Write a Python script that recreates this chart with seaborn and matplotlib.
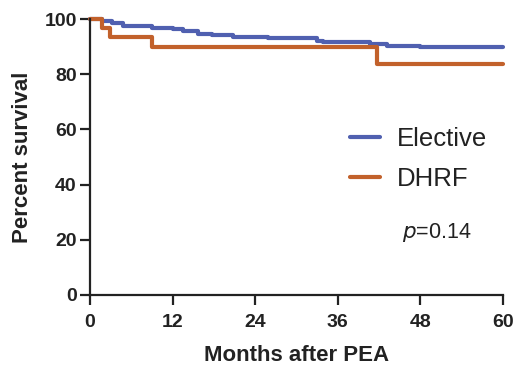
import matplotlib
matplotlib.use('Agg')
import matplotlib.pyplot as plt
import seaborn as sns
import pandas as pd

# Kaplan-Meier step curves (months, percent survival)
elective_months = [0, 1.7, 3.2, 4.8, 9.0, 12.1, 13.5, 15.7, 17.7, 20.8, 25.9, 33.0, 33.9, 40.7, 43.2, 48.0, 60]
elective_surv = [100, 99.4, 98.7, 97.6, 96.9, 96.4, 95.7, 94.7, 94.2, 93.5, 93.0, 92.0, 91.5, 90.8, 90.3, 89.7, 89.7]
dhrf_months = [0, 1.7, 2.9, 9.0, 41.7, 60]
dhrf_surv = [100, 96.9, 93.5, 90.0, 83.6, 83.6]

groups = ['Elective', 'DHRF']
colors = ['#5060b0', '#c2612b']
x_ticks = [0, 12, 24, 36, 48, 60]
y_ticks = [0, 20, 40, 60, 80, 100]

sns.set_style('ticks')
plt.rcParams['font.family'] = ['Liberation Sans', 'DejaVu Sans']

data = pd.concat([
    pd.DataFrame({'Months': elective_months, 'Survival': elective_surv, 'Group': 'Elective'}),
    pd.DataFrame({'Months': dhrf_months, 'Survival': dhrf_surv, 'Group': 'DHRF'}),
])

fig = plt.figure(figsize=(5.15, 3.65), dpi=100)
ax = fig.add_axes([0.1748, 0.1918, 0.8019, 0.7561])
sns.lineplot(data=data, x='Months', y='Survival', hue='Group', hue_order=groups,
             palette=colors, drawstyle='steps-post', estimator=None, sort=False,
             linewidth=3, ax=ax, clip_on=False)

ax.set_xlim(0, 60)
ax.set_ylim(0, 100)
ax.set_xticks(x_ticks)
ax.set_yticks(y_ticks)
for s in ['top', 'right']:
    ax.spines[s].set_visible(False)
for s in ['left', 'bottom']:
    ax.spines[s].set_linewidth(1.6)
    ax.spines[s].set_color('#222222')
ax.tick_params(width=1.6, length=7.5, color='#222222', labelsize=14, labelcolor='#222222')
ax.tick_params(axis='x', pad=6)
ax.tick_params(axis='y', pad=2)
for lab in ax.get_xticklabels() + ax.get_yticklabels():
    lab.set_fontweight('bold')
ax.set_xlabel('Months after PEA', fontsize=16, fontweight='bold', labelpad=10, color='#222222')
ax.set_ylabel('Percent survival', fontsize=16, fontweight='bold', labelpad=8, color='#222222')

leg = ax.legend(frameon=False, prop={'size': 18.5}, handlelength=1.15, handletextpad=0.65,
                loc='upper left', bbox_to_anchor=(0.63, 0.607), labelspacing=0.62,
                borderpad=0, borderaxespad=0)
for t in leg.get_texts():
    t.set_color('#222222')
ax.text(0.755, 0.228, r'$\it{p}$=0.14', transform=ax.transAxes, fontsize=15.5,
        va='center', color='#222222')

fig.savefig('out.png', dpi=100)
plt.close(fig)
